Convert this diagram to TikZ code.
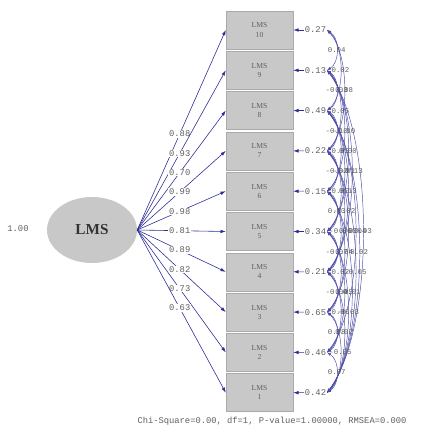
\documentclass[tikz,border=0pt]{standalone}
\usepackage{fontspec}
\setmainfont{Liberation Serif}
\setmonofont{Liberation Mono}
\usetikzlibrary{shapes.geometric,arrows.meta}
\definecolor{pathblue}{RGB}{45,45,150}
\definecolor{boxgray}{RGB}{200,200,200}
\definecolor{numgray}{RGB}{95,95,95}

\begin{document}
\begin{tikzpicture}[x=0.3mm, y=-0.3mm, >={Latex[length=4.5pt,width=3pt]},
          obs/.style={draw=boxgray!85!black, fill=boxgray, minimum width=20.1mm, minimum height=11.4mm,
            align=center, inner sep=0pt, text=numgray, font=\fontsize{6.5}{7.8}\selectfont},
          lat/.style={ellipse, fill=boxgray, minimum width=27mm, minimum height=19.8mm,
            text=black!80, font=\fontsize{13}{14}\selectfont\bfseries},
          numlab/.style={inner sep=0.6pt, text=numgray, font=\ttfamily\fontsize{7.5}{8}\selectfont},
          loadlab/.style={numlab, fill=white},
          covlab/.style={numlab, font=\ttfamily\fontsize{6.3}{7}\selectfont},
          ldarr/.style={->, draw=pathblue, line width=0.5pt},
          cov/.style={{Latex[length=3.5pt,width=2.4pt]}-{Latex[length=3.5pt,width=2.4pt]}, draw=pathblue!85, line width=0.4pt}]
        \useasboundingbox (0,0) rectangle (424,439);
        % latent factor
        \node[lat] (lms) at (92,230) {LMS};
        \node[numlab] (var) at (18,229) {1.00};
        % indicators
        \node[obs] (b10) at (259.5,30) {LMS\\10};
        \node[obs] (b9) at (259.5,70.3) {LMS\\9};
        \node[obs] (b8) at (259.5,110.6) {LMS\\8};
        \node[obs] (b7) at (259.5,150.9) {LMS\\7};
        \node[obs] (b6) at (259.5,191.2) {LMS\\6};
        \node[obs] (b5) at (259.5,231.5) {LMS\\5};
        \node[obs] (b4) at (259.5,271.8) {LMS\\4};
        \node[obs] (b3) at (259.5,312.1) {LMS\\3};
        \node[obs] (b2) at (259.5,352.4) {LMS\\2};
        \node[obs] (b1) at (259.5,392.7) {LMS\\1};
        % loadings
        \draw[ldarr] (lms.east) -- node[pos=.48, loadlab] {0.88} (b10.west);
        \draw[ldarr] (lms.east) -- node[pos=.48, loadlab] {0.93} (b9.west);
        \draw[ldarr] (lms.east) -- node[pos=.48, loadlab] {0.70} (b8.west);
        \draw[ldarr] (lms.east) -- node[pos=.48, loadlab] {0.99} (b7.west);
        \draw[ldarr] (lms.east) -- node[pos=.48, loadlab] {0.98} (b6.west);
        \draw[ldarr] (lms.east) -- node[pos=.48, loadlab] {0.81} (b5.west);
        \draw[ldarr] (lms.east) -- node[pos=.48, loadlab] {0.89} (b4.west);
        \draw[ldarr] (lms.east) -- node[pos=.48, loadlab] {0.82} (b3.west);
        \draw[ldarr] (lms.east) -- node[pos=.48, loadlab] {0.73} (b2.west);
        \draw[ldarr] (lms.east) -- node[pos=.48, loadlab] {0.63} (b1.west);
        % error variances
        \foreach \k/\v in {10/0.27, 9/0.13, 8/0.49, 7/0.22, 6/0.15, 5/0.34, 4/0.21, 3/0.65, 2/0.46, 1/0.42} {
          \node[numlab, anchor=west] (e\k) at (304,{30+(10-\k)*40.3}) {\v};
          \draw[ldarr] (e\k) -- (b\k);
        }
        % error covariances
        \foreach \a/\b/\v in {10/9/0.04, 10/8/0.02, 10/7/0.08, 9/8/-0.03, 9/7/0.05, 9/6/-0.10, 9/5/0.00,
            9/4/-0.13, 9/1/0.03, 8/7/-0.10, 8/6/0.05, 8/5/-0.01, 8/4/0.13, 8/2/-0.04, 8/1/0.02,
            7/6/-0.02, 7/5/0.00, 7/4/-0.02, 7/3/0.03, 7/1/-0.05, 6/5/0.03, 6/4/-0.06, 6/3/0.04,
            6/1/0.01, 5/4/-0.07, 5/3/0.02, 5/2/0.05, 5/1/-0.03, 4/3/-0.04, 4/2/0.06, 4/1/0.02,
            3/2/0.08, 3/1/-0.05, 2/1/0.07} {
          \draw[cov] (e\a.east) .. controls +({8+5*(\a-\b)},{8*(\a-\b)}) and +({8+5*(\a-\b)},{-8*(\a-\b)}) ..
            node[covlab] {\v} (e\b.east);
        }
        \node[numlab] (fit) at (272,421) {Chi-Square=0.00, df=1, P-value=1.00000, RMSEA=0.000};
\end{tikzpicture}
\end{document}
